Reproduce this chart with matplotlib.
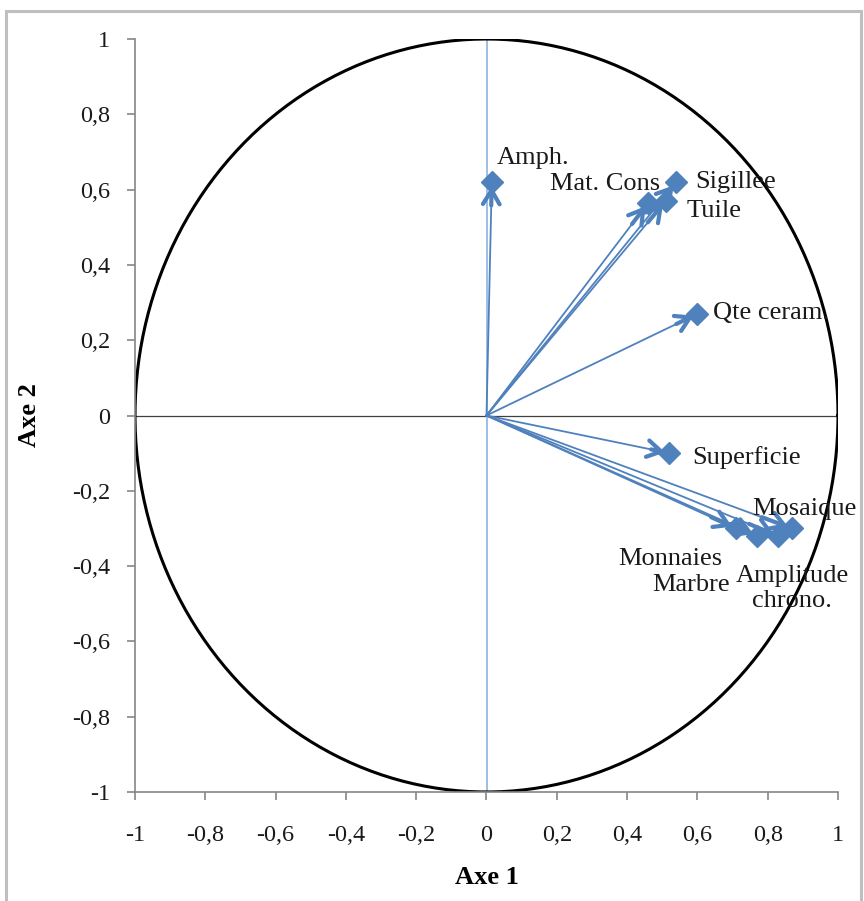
import numpy as np
import matplotlib.pyplot as plt
from matplotlib.patches import Rectangle

# coordonnees des variables sur les axes 1 et 2
variables = ['Amph.', 'Mat. Cons', 'Sigillee', 'Tuile', 'Qte ceram.', 'Superficie',
             'Monnaies', 'Marbre', 'Amplitude\nchrono.', 'Mosaique']
axe1 = [0.015, 0.46, 0.54, 0.51, 0.60, 0.52, 0.71, 0.77, 0.83, 0.87]
axe2 = [0.62, 0.565, 0.62, 0.57, 0.27, -0.10, -0.30, -0.32, -0.32, -0.30]

# position des etiquettes
lab_x = [0.03, 0.494, 0.593, 0.57, 0.644, 0.585, 0.672, 0.693, 0.87, 0.755]
lab_y = [0.685, 0.616, 0.621, 0.544, 0.272, -0.112, -0.381, -0.45, -0.46, -0.248]
lab_ha = ['left', 'right', 'left', 'left', 'left', 'left', 'right', 'right', 'center', 'left']

ticks = np.arange(-1, 1.01, 0.2)
tick_labels = ['-1', '-0,8', '-0,6', '-0,4', '-0,2', '0', '0,2', '0,4', '0,6', '0,8', '1']

plt.rcParams['font.family'] = ['Liberation Serif', 'DejaVu Serif']

blue = '#4f81bd'
grey = '#868686'

fig = plt.figure(figsize=(8.64, 9.01), dpi=100)
ax = fig.add_axes([135/864, 1-792/901, 703/864, 753/901])

# cercle des correlations
t = np.linspace(0, 2*np.pi, 400)
ax.plot(np.cos(t), np.sin(t), color='black', lw=2.2, zorder=2)
ax.plot([-1, 1], [0, 0], color='#404040', lw=0.9, zorder=1)
ax.plot([0, 0], [-1, 1], color='#8db3e2', lw=1.2, zorder=1)

for x, y in zip(axe1, axe2):
    ax.plot([0, x], [0, y], color=blue, lw=1.3, zorder=3)
    ax.annotate('', xy=(x, y), xytext=(0.9*x, 0.9*y),
                arrowprops=dict(arrowstyle='->,head_length=1.0,head_width=0.6',
                                color=blue, lw=3, shrinkA=0, shrinkB=3),
                zorder=4)
ax.plot(axe1, axe2, linestyle='none', marker='D', ms=11, color=blue, zorder=5)

for name, x, y, ha in zip(variables, lab_x, lab_y, lab_ha):
    ax.text(x, y, name, ha=ha, va='center', fontsize=19, color='#1a1a1a',
            multialignment='center', zorder=6)

ax.set_xlim(-1, 1)
ax.set_ylim(-1, 1)
ax.set_xticks(ticks)
ax.set_xticklabels(tick_labels)
ax.set_yticks(ticks)
ax.set_yticklabels(tick_labels)
for s in ['top', 'right']:
    ax.spines[s].set_visible(False)
for s in ['left', 'bottom']:
    ax.spines[s].set_color(grey)
    ax.spines[s].set_linewidth(1.2)
ax.tick_params(axis='both', colors=grey, labelcolor='#1a1a1a', labelsize=17.5,
               length=6, width=1.2, direction='out')
ax.tick_params(axis='x', pad=18)
ax.tick_params(axis='y', pad=12)
ax.set_xlabel('Axe 1', fontsize=19, fontweight='bold', labelpad=14)
ax.set_ylabel('Axe 2', fontsize=19, fontweight='bold', labelpad=22)

# cadre gris autour du graphique
fig.patches.append(Rectangle((6/864, -0.01), 855/864, 1-11/901+0.01,
                             transform=fig.transFigure, fill=False,
                             edgecolor='#bfbfbf', lw=2.2))

plt.savefig('out.png', dpi=100)
